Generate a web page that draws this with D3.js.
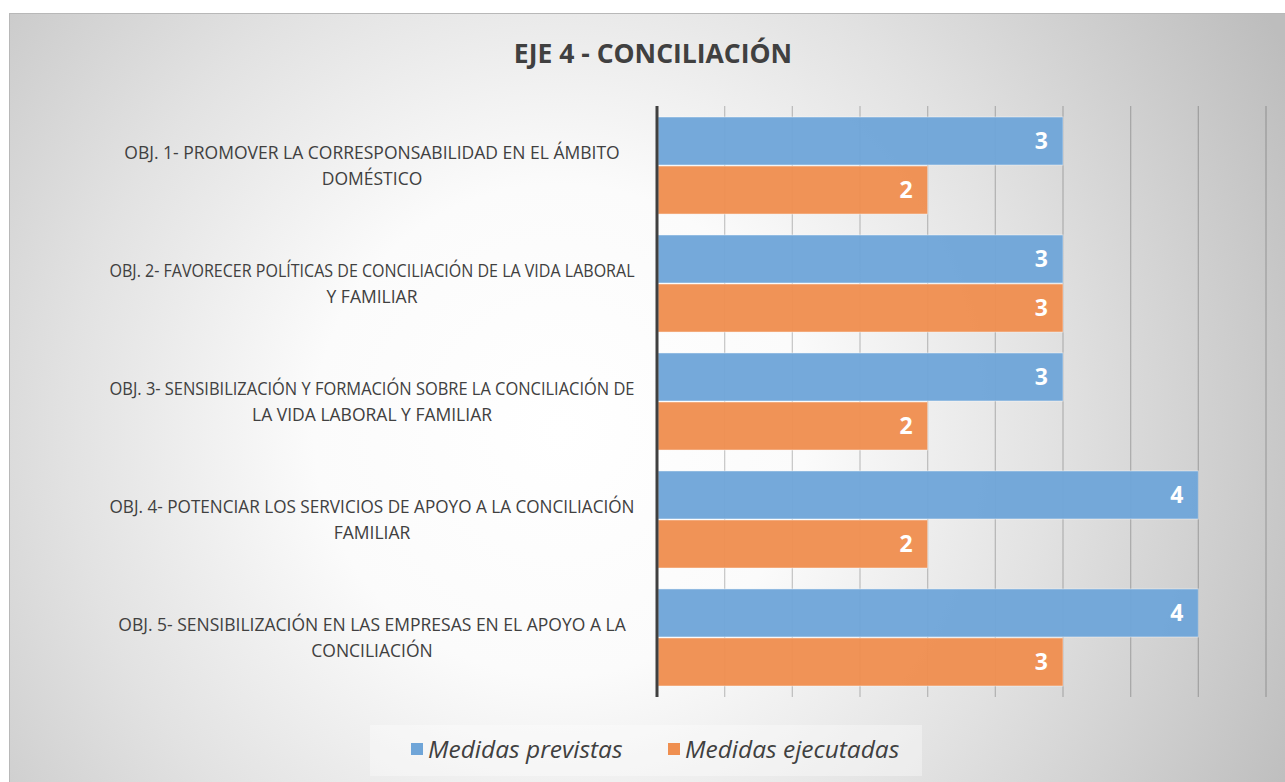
<!DOCTYPE html>
<html>
<head>
<meta charset="utf-8">
<script src="https://cdn.jsdelivr.net/npm/d3@7"></script>
<style>
  body { margin: 0; background: #fff; }
  text { font-family: "Open Sans", sans-serif; fill: #404040; }
</style>
</head>
<body>
<svg width="1285" height="782"></svg>
<script>
var categories = [
  "OBJ. 1- PROMOVER LA CORRESPONSABILIDAD EN EL ÁMBITO\nDOMÉSTICO",
  "OBJ. 2- FAVORECER POLÍTICAS DE CONCILIACIÓN DE LA VIDA LABORAL\nY FAMILIAR",
  "OBJ. 3- SENSIBILIZACIÓN Y FORMACIÓN SOBRE LA CONCILIACIÓN DE\nLA VIDA LABORAL Y FAMILIAR",
  "OBJ. 4- POTENCIAR LOS SERVICIOS DE APOYO A LA CONCILIACIÓN\nFAMILIAR",
  "OBJ. 5- SENSIBILIZACIÓN EN LAS EMPRESAS EN EL APOYO A LA\nCONCILIACIÓN"
];
var seriesNames = ["Medidas previstas", "Medidas ejecutadas"];
var previstas = [3, 3, 3, 4, 4];
var ejecutadas = [2, 3, 2, 2, 3];
var xTicks = [0, 0.5, 1, 1.5, 2, 2.5, 3, 3.5, 4, 4.5];
var colors = ["#6fa5d8", "#ef8f50"];
var title = "EJE 4 - CONCILIACIÓN";

var svg = d3.select("svg"),
    margin = {top: 106, right: 19, bottom: 85, left: 657},
    width = +svg.attr("width") - margin.left - margin.right,
    height = +svg.attr("height") - margin.top - margin.bottom;

var data = categories.map(function(c, i) {
  return {cat: c, values: [previstas[i], ejecutadas[i]]};
});

// background
var defs = svg.append("defs");
var grad = defs.append("radialGradient")
    .attr("id", "bg")
    .attr("gradientUnits", "userSpaceOnUse")
    .attr("cx", 560).attr("cy", 430).attr("r", 820);
grad.append("stop").attr("offset", 0).attr("stop-color", "#ffffff");
grad.append("stop").attr("offset", 0.3).attr("stop-color", "#fbfbfb");
grad.append("stop").attr("offset", 0.6).attr("stop-color", "#e2e2e2");
grad.append("stop").attr("offset", 1).attr("stop-color", "#bdbdbd");

svg.append("rect")
    .attr("x", 9.5).attr("y", 13.5)
    .attr("width", 1290).attr("height", 790)
    .attr("fill", "url(#bg)")
    .attr("stroke", "#b8b8b8");

svg.append("text")
    .attr("x", 653)
    .attr("y", 63)
    .attr("text-anchor", "middle")
    .style("font-size", "26.5px")
    .style("font-weight", "bold")
    .text(title);

var x = d3.scaleLinear().domain([0, 4.5]).range([0, width]);
var y0 = d3.scaleBand().domain(categories).range([0, height])
    .paddingInner(0.169).paddingOuter(0.089);
var y1 = d3.scaleBand().domain(seriesNames).range([0, y0.bandwidth()]);

var g = svg.append("g")
    .attr("transform", "translate(" + margin.left + "," + margin.top + ")");

// gridlines
g.selectAll(".grid")
  .data(xTicks.slice(1))
  .enter().append("line")
    .attr("class", "grid")
    .attr("x1", function(d) { return x(d); })
    .attr("x2", function(d) { return x(d); })
    .attr("y1", 0)
    .attr("y2", height)
    .attr("stroke", "#000")
    .attr("stroke-opacity", 0.2)
    .attr("stroke-width", 1.3);

var groups = g.selectAll(".grp")
  .data(data)
  .enter().append("g")
    .attr("class", "grp")
    .attr("transform", function(d) { return "translate(0," + y0(d.cat) + ")"; });

groups.selectAll("rect")
  .data(function(d) { return d.values.map(function(v, i) { return {s: seriesNames[i], v: v, i: i}; }); })
  .enter().append("rect")
    .attr("x", 1)
    .attr("y", function(d) { return y1(d.s) + 0.5; })
    .attr("width", function(d) { return x(d.v) - 1; })
    .attr("height", y1.bandwidth() - 1)
    .attr("fill", function(d) { return colors[d.i]; })
    .attr("fill-opacity", 0.96)
    .attr("stroke", "#ffffff")
    .attr("stroke-opacity", 0.45);

groups.selectAll(".val")
  .data(function(d) { return d.values.map(function(v, i) { return {s: seriesNames[i], v: v}; }); })
  .enter().append("text")
    .attr("class", "val")
    .attr("x", function(d) { return x(d.v) - 15; })
    .attr("y", function(d) { return y1(d.s) + y1.bandwidth() / 2; })
    .attr("dy", "0.36em")
    .attr("text-anchor", "end")
    .style("font-size", "23px")
    .style("font-weight", "bold")
    .style("fill", "#ffffff")
    .text(function(d) { return d.v; });

// vertical axis line
g.append("line")
    .attr("x1", 0).attr("x2", 0)
    .attr("y1", 0).attr("y2", height)
    .attr("stroke", "#404040")
    .attr("stroke-width", 3);

// category labels (wide lines squeezed to fit the label column)
var maxLabel = 525;
var labels = g.selectAll(".lbl")
  .data(categories)
  .enter().append("text")
    .attr("class", "lbl")
    .attr("text-anchor", "middle")
    .style("font-size", "17.5px")
    .attr("transform", function(d) {
      return "translate(" + (372 - margin.left) + "," + (y0(d) + y0.bandwidth() / 2) + ")";
    });
labels.each(function(d) {
  var lines = d.split("\n");
  var t = d3.select(this);
  lines.forEach(function(line, i) {
    var ts = t.append("tspan")
      .attr("x", 0)
      .attr("y", (i - (lines.length - 1) / 2) * 26)
      .attr("dy", "0.36em")
      .text(line);
    if (ts.node().getComputedTextLength() > maxLabel) {
      ts.attr("textLength", maxLabel).attr("lengthAdjust", "spacingAndGlyphs");
    }
  });
});

// legend
svg.append("rect")
    .attr("x", 370).attr("y", 725)
    .attr("width", 552).attr("height", 51)
    .attr("fill", "#ffffff")
    .attr("fill-opacity", 0.35);

var legendX = [411, 668];
var legend = svg.selectAll(".leg")
  .data(seriesNames)
  .enter().append("g")
    .attr("class", "leg")
    .attr("transform", function(d, i) { return "translate(" + legendX[i] + ",749)"; });
legend.append("rect")
    .attr("x", 0).attr("y", -6)
    .attr("width", 12).attr("height", 12)
    .attr("fill", function(d, i) { return colors[i]; });
legend.append("text")
    .attr("x", 17)
    .attr("dy", "0.36em")
    .style("font-size", "24.5px")
    .style("font-style", "italic")
    .text(function(d) { return d; });
</script>
</body>
</html>
